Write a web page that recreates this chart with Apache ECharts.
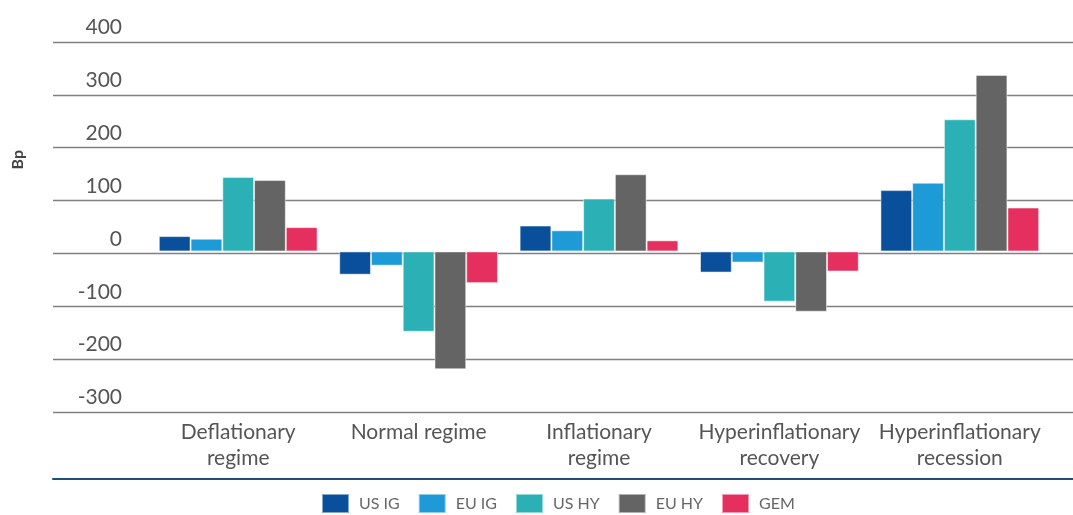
<!DOCTYPE html>
<html>
<head>
<meta charset="utf-8">
<script src="https://cdn.jsdelivr.net/npm/echarts@6/dist/echarts.min.js"></script>
<style>
  html, body { margin: 0; padding: 0; background: #fff; }
  #chart { width: 1073px; height: 515px; }
</style>
</head>
<body>
<div id="chart"></div>
<script>
// categories and values (Bp)
const regimes = ['Deflationary\nregime', 'Normal regime', 'Inflationary\nregime', 'Hyperinflationary\nrecovery', 'Hyperinflationary\nrecession']
const usIG = [29, -44, 49, -40, 116]
const euIG = [24, -27, 40, -21, 130]
const usHY = [141, -152, 100, -95, 250]
const euHY = [135, -223, 146, -114, 334]
const gem = [46, -60, 21, -38, 83]
const yTicks = { min: -300, max: 400, step: 100 }

const colors = ['#0a4f9c', '#1e9bd7', '#2bb1b5', '#646464', '#e5305f']
const seriesNames = ['US IG', 'EU IG', 'US HY', 'EU HY', 'GEM']
const seriesData = [usIG, euIG, usHY, euHY, gem]

const chart = echarts.init(document.getElementById('chart'))

const option = {
  animation: false,
  color: colors,
  textStyle: { fontFamily: 'Lato, "Noto Sans", sans-serif' },
  grid: [
    // gridlines + y labels, spans the full width
    { left: 53, right: 0, top: 42, height: 370 },
    // bars
    { left: 148, right: 23, top: 40, height: 370 }
  ],
  xAxis: [
    {
      gridIndex: 0,
      type: 'category',
      data: [''],
      offset: 67,
      axisLine: { show: true, onZero: false, lineStyle: { color: '#1d4f7c', width: 2 } },
      axisTick: { show: false },
      axisLabel: { show: false }
    },
    {
      gridIndex: 1,
      type: 'category',
      data: regimes,
      axisLine: { show: false },
      axisTick: { show: false },
      axisLabel: {
        margin: 9,
        fontSize: 21,
        lineHeight: 26,
        color: '#555',
        interval: 0
      }
    }
  ],
  yAxis: [
    {
      gridIndex: 0,
      type: 'value',
      min: yTicks.min,
      max: yTicks.max,
      interval: yTicks.step,
      axisLine: { show: false },
      axisTick: { show: false },
      splitLine: { lineStyle: { color: '#808080', width: 1.3 } },
      axisLabel: {
        margin: -69,
        fontSize: 21,
        color: '#555',
        verticalAlign: 'bottom',
        padding: [0, 0, 4, 0]
      }
    },
    {
      gridIndex: 1,
      type: 'value',
      min: yTicks.min,
      max: yTicks.max,
      interval: yTicks.step,
      show: false
    }
  ],
  legend: {
    left: 316,
    top: 488,
    itemWidth: 27,
    itemHeight: 19,
    itemGap: 18,
    icon: 'rect',
    textStyle: {
      fontSize: 16,
      color: '#666',
      padding: [0, 0, 0, 5]
    },
    data: seriesNames
  },
  graphic: [
    {
      type: 'text',
      left: 10,
      top: 150,
      rotation: Math.PI / 2,
      style: {
        text: 'Bp',
        font: 'bold 16px Lato, sans-serif',
        fill: '#444'
      }
    }
  ],
  series: seriesNames.map((name, i) => ({
    name: name,
    type: 'bar',
    xAxisIndex: 1,
    yAxisIndex: 1,
    data: seriesData[i],
    barGap: '0%',
    barCategoryGap: '12%',
    itemStyle: {
      color: colors[i],
      borderColor: 'rgba(255,255,255,0.5)',
      borderWidth: 1
    }
  }))
}

chart.setOption(option)
</script>
</body>
</html>
